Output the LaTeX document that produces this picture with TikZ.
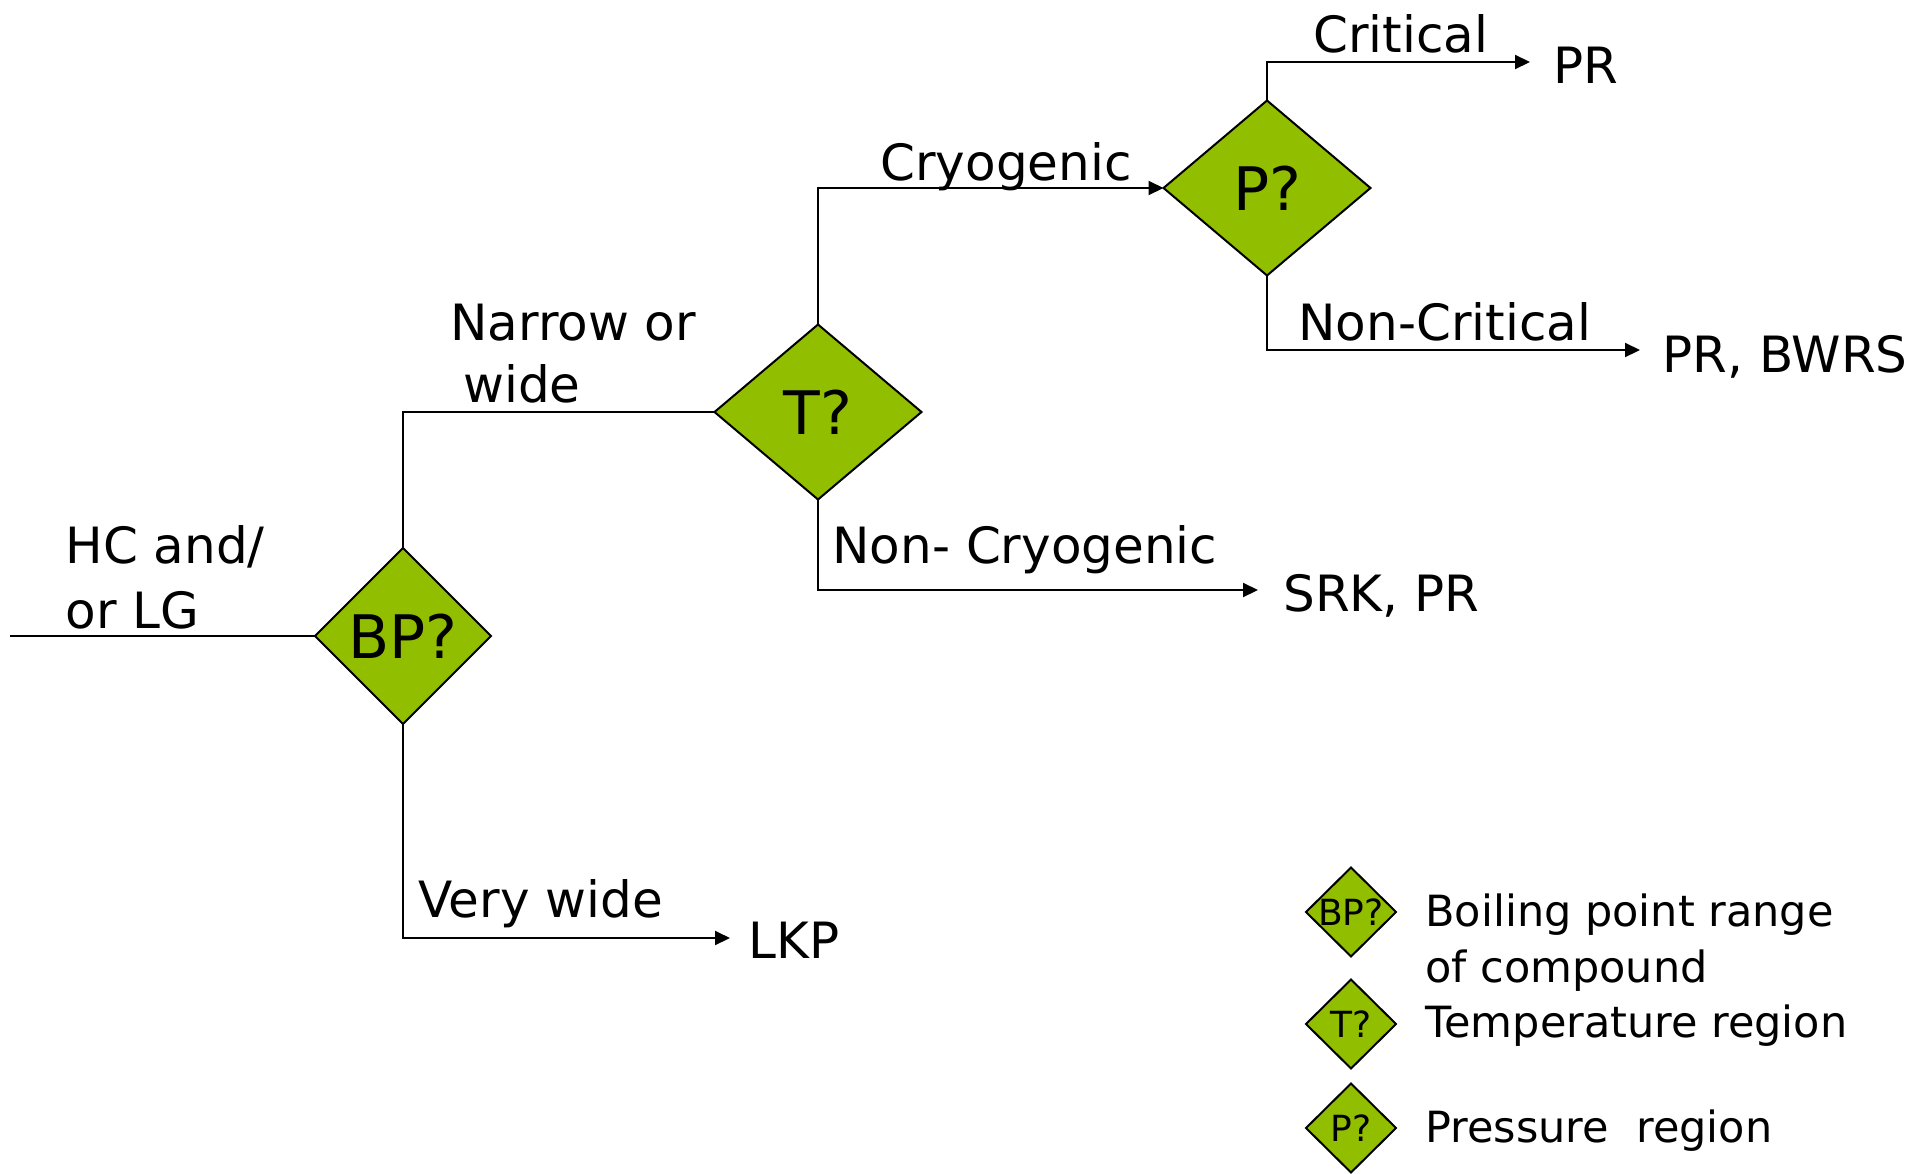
\documentclass[tikz,border=0pt]{standalone}
\usepackage{fontspec}
\setmainfont{DejaVu Sans}
\usetikzlibrary{shapes.geometric,arrows.meta}
\definecolor{decgreen}{RGB}{146,190,0}
\begin{document}
\begin{tikzpicture}[x=0.5pt,y=-0.5pt,
  decision/.style={diamond,draw=black,line width=1pt,fill=decgreen,
    inner sep=0pt,outer sep=0pt,font=\fontsize{30}{36}\selectfont},
  bigdec/.style={decision,minimum width=103.5pt,minimum height=87.5pt},
  keydec/.style={decision,minimum width=45pt,minimum height=44.5pt,
    font=\fontsize{18}{22}\selectfont},
  lbl/.style={inner sep=0pt,anchor=base west,font=\fontsize{25}{30}\selectfont},
  keylbl/.style={lbl,font=\fontsize{21.5}{26}\selectfont},
  wire/.style={line width=1pt},
  flow/.style={wire,-{Triangle[length=7.5pt,width=7pt]}}
]
\useasboundingbox (0,0) rectangle (1932,1173);
\fill[white] (0,0) rectangle (1932,1173);

% decision diamonds
\node[decision,minimum width=88pt,minimum height=88pt] (bp) at (403,636) {\makebox[0pt]{BP?}};
\node[bigdec] (t) at (818,412) {\makebox[0pt]{T?}};
\node[bigdec] (p) at (1267,188) {\makebox[0pt]{P?}};

% free ends of the connectors
\coordinate (in) at (10,636);
\coordinate (critEnd) at (1530,62);
\coordinate (noncritEnd) at (1640,350);
\coordinate (noncryoEnd) at (1258,590);
\coordinate (vwEnd) at (730,938);

% connectors
\draw[wire] (in) -- (bp.west);
\draw[wire] (bp.north) |- (t.west);
\draw[flow] (t.north) |- (p.west);
\draw[flow] (p.north) |- (critEnd);
\draw[flow] (p.south) |- (noncritEnd);
\draw[flow] (t.south) |- (noncryoEnd);
\draw[flow] (bp.south) |- (vwEnd);

% branch labels
\node[lbl] (hc1) at (65,563) {HC and/};
\node[lbl] (hc2) at (65,628) {or LG};
\node[lbl] (nw1) at (450,340) {Narrow or};
\node[lbl] (nw2) at (463,402) {wide};
\node[lbl] (cryo) at (880,180) {Cryogenic};
\node[lbl] (crit) at (1313,52) {Critical};
\node[lbl] (noncrit) at (1298,340) {Non-Critical};
\node[lbl] (noncryo) at (832,563) {Non- Cryogenic};
\node[lbl] (vw) at (418,917) {Very wide};

% outcomes
\node[lbl] (pr) at (1553,83) {PR};
\node[lbl] (prbwrs) at (1662,372) {PR, BWRS};
\node[lbl] (srkpr) at (1283,611) {SRK, PR};
\node[lbl] (lkp) at (748,958) {LKP};

% key
\node[keydec] (kbp) at (1351,912) {\makebox[0pt]{BP?}};
\node[keydec] (kt) at (1351,1024) {\makebox[0pt]{T?}};
\node[keydec] (kp) at (1351,1128) {\makebox[0pt]{P?}};
\node[keylbl] (kbp1) at (1425,926) {Boiling point range};
\node[keylbl] (kbp2) at (1425,982) {of compound};
\node[keylbl] (ktl) at (1425,1037) {Temperature region};
\node[keylbl] (kpl) at (1425,1142) {Pressure~~region};
\end{tikzpicture}
\end{document}
